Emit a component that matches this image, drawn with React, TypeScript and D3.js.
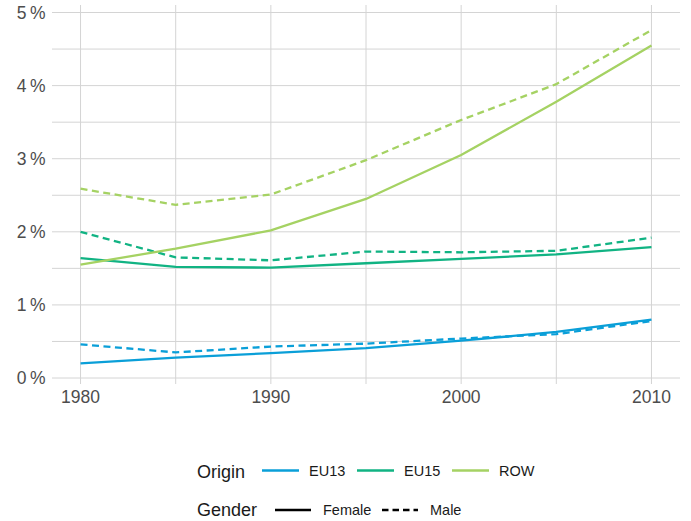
import React from "react";
import * as d3 from "d3";

const years = [1980, 1985, 1990, 1995, 2000, 2005, 2010];
const origins = ["EU13", "EU15", "ROW"];
const genders = ["Female", "Male"];
const eu13Female = [0.2, 0.28, 0.34, 0.41, 0.51, 0.63, 0.8];
const eu13Male = [0.46, 0.35, 0.43, 0.47, 0.54, 0.6, 0.78];
const eu15Female = [1.64, 1.52, 1.51, 1.57, 1.63, 1.69, 1.79];
const eu15Male = [2.0, 1.65, 1.61, 1.73, 1.72, 1.74, 1.92];
const rowFemale = [1.55, 1.77, 2.02, 2.45, 3.05, 3.78, 4.55];
const rowMale = [2.59, 2.37, 2.51, 2.98, 3.53, 4.02, 4.76];
const yTicks = [0, 1, 2, 3, 4, 5];
const xTicks = [1980, 1990, 2000, 2010];
const xMinor = [1985, 1995, 2005];

const colors: Record<string, string> = { EU13: "#0a9fd8", EU15: "#11b383", ROW: "#a5d263" };

const series = [
  { origin: "EU13", gender: "Female", values: eu13Female },
  { origin: "EU13", gender: "Male", values: eu13Male },
  { origin: "EU15", gender: "Female", values: eu15Female },
  { origin: "EU15", gender: "Male", values: eu15Male },
  { origin: "ROW", gender: "Female", values: rowFemale },
  { origin: "ROW", gender: "Male", values: rowMale },
];

export default function App() {
  const W = 691, H = 521;
  const left = 52, right = 680, top = 5, bottom = 384;
  const x = d3.scaleLinear().domain([1978.5, 2011.5]).range([left, right]);
  const y = d3.scaleLinear().domain([-0.082, 5.103]).range([bottom, top]);
  const line = d3.line<number>().x((_, i) => x(years[i])).y((d) => y(d));
  const font = "Liberation Sans, Arial, sans-serif";
  const dash = "7,4.5";
  const minorY = yTicks.slice(0, -1).map((t) => t + 0.5);

  return (
    <svg width={W} height={H} style={{ position: "absolute", left: 0, top: 0 }} fontFamily={font}>
      <rect width={W} height={H} fill="white" />
      <g stroke="#d4d4d4" strokeWidth={1}>
        {minorY.map((t) => (
          <line key={"my" + t} x1={left} x2={right} y1={y(t)} y2={y(t)} />
        ))}
        {xMinor.map((t) => (
          <line key={"mx" + t} x1={x(t)} x2={x(t)} y1={top} y2={bottom} />
        ))}
        {yTicks.map((t) => (
          <line key={"y" + t} x1={left} x2={right} y1={y(t)} y2={y(t)} />
        ))}
        {xTicks.map((t) => (
          <line key={"x" + t} x1={x(t)} x2={x(t)} y1={top} y2={bottom} />
        ))}
      </g>
      <g fill="#4d4d4d" fontSize={17.5}>
        {yTicks.map((t) => (
          <text key={t} x={45.5} y={y(t) + 6.2} textAnchor="end">{`${t}\u2009%`}</text>
        ))}
        {xTicks.map((t) => (
          <text key={t} x={x(t)} y={402.7} textAnchor="middle">{t}</text>
        ))}
      </g>
      <g fill="none" strokeWidth={2.3}>
        {series.map((s) => (
          <path
            key={s.origin + s.gender}
            d={line(s.values) || ""}
            stroke={colors[s.origin]}
            strokeDasharray={s.gender === "Male" ? dash : undefined}
          />
        ))}
      </g>
      <g>
        <text x={197} y={478.3} fontSize={18} fill="#1a1a1a">Origin</text>
        {origins.map((o, i) => {
          const lx = [262, 357, 452][i];
          return (
            <g key={o}>
              <line x1={lx} x2={lx + 37} y1={470.5} y2={470.5} stroke={colors[o]} strokeWidth={2.3} />
              <text x={lx + 47} y={476} fontSize={14.5} fill="#1a1a1a">{o}</text>
            </g>
          );
        })}
        <text x={197} y={516} fontSize={18} fill="#1a1a1a">Gender</text>
        {genders.map((g, i) => {
          const lx = [275, 382][i];
          return (
            <g key={g}>
              <line x1={lx} x2={lx + 36} y1={510} y2={510} stroke="#000" strokeWidth={2.3}
                strokeDasharray={g === "Male" ? "6.5,4" : undefined} />
              <text x={lx + 48} y={514.5} fontSize={14.5} fill="#1a1a1a">{g}</text>
            </g>
          );
        })}
      </g>
    </svg>
  );
}
